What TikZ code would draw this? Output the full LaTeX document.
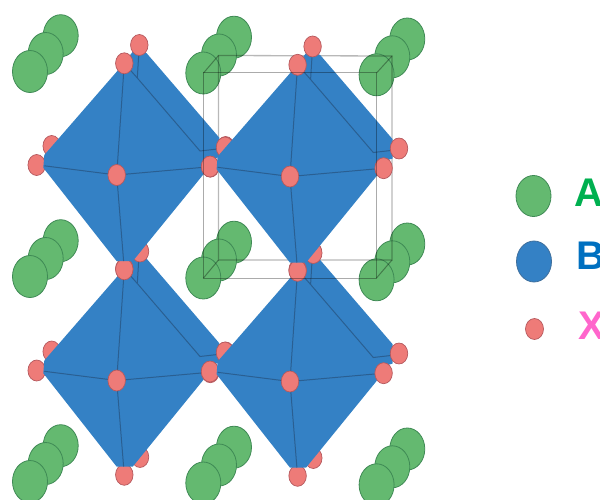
\documentclass[tikz,border=0pt]{standalone}
\usepackage{fontspec}
\usetikzlibrary{shapes.geometric}
\setmainfont{Liberation Sans}
\tikzset{
  atom/.style={ellipse,draw=atomline,fill=atomfill,line width=0.7pt,inner sep=0pt,minimum width=17.5pt,minimum height=21pt},
  aball/.style={ellipse,draw=greenline,fill=greenfill,line width=0.8pt,inner sep=0pt,minimum width=35pt,minimum height=42pt},
  bball/.style={ellipse,draw=blueline,fill=bluefill,line width=0.8pt,inner sep=0pt,minimum width=35pt,minimum height=41pt},
  edgeline/.style={draw=edgecol,line width=1pt},
  cellback/.style={draw=black,draw opacity=0.28,line width=1.3pt},
  cellfront/.style={draw=black,draw opacity=0.33,line width=1pt},
  legendtext/.style={font=\bfseries\fontsize{40}{40}\selectfont,anchor=base west,inner sep=0pt}
}
\definecolor{atomfill}{HTML}{EE7B78}
\definecolor{atomline}{HTML}{B5595E}
\definecolor{greenfill}{HTML}{64B970}
\definecolor{greenline}{HTML}{3F8A55}
\definecolor{bluefill}{HTML}{3481C5}
\definecolor{blueline}{HTML}{3F6F9C}
\definecolor{edgecol}{HTML}{2A5F92}
\definecolor{legA}{HTML}{00B050}
\definecolor{legB}{HTML}{0070C0}
\definecolor{legX}{HTML}{FF66CC}
\newcommand{\greentrio}[2]{%
  \begin{scope}[shift={(#1,#2)}]
    \node[aball] (gb) at (60.7,35.7) {};
    \node[aball] (gm) at (45.7,53.5) {};
    \node[aball] (gf) at (30,71.5) {};
  \end{scope}}
\newcommand{\octa}[2]{%
  \begin{scope}[shift={(#1,#2)}]
    \node[atom] (lb) at (51.7,146) {};
    \node[atom] (bb) at (140,251.5) {};
    \node[atom] (lf) at (36.7,165) {};
    \node[atom] (bf) at (124.3,269.3) {};
    \fill[bluefill] (44.3,155) -- (116.7,71.7) -- (124,63) -- (134,50) -- (146.7,53.3) -- (219.4,137.8) -- (219.4,157) -- (210,160) -- (203.3,174.5) -- (132.7,261.2) -- (116.7,261.2) -- (43.3,167.8) -- cycle;
    \coordinate (T) at (124.3,63.3);
    \coordinate (C) at (116.7,175);
    \coordinate (L) at (44.3,165.8);
    \coordinate (B) at (123.6,261);
    \coordinate (R) at (210.3,166.7);
    \coordinate (P) at (137.3,78);
    \coordinate (Q) at (200,151);
    \coordinate (S) at (222,148.5);
    \node[atom] (tb) at (139.3,45) {};
    \draw[edgeline] (T) -- (C) -- (B);
    \draw[edgeline] (L) -- (C) -- (R);
    \draw[edgeline] (tb) -- (P);
    \draw[edgeline] (T) -- (P) -- (Q) -- (S);
    \node[atom] (rb) at (225.7,147) {};
    \node[atom] (tf) at (T) {};
    \node[atom] (c) at (C) {};
    \node[atom] (rf) at (R) {};
  \end{scope}}
\begin{document}
\begin{tikzpicture}[x=1pt,y=-1pt]
\useasboundingbox (0,0) rectangle (600,500);
% A-site atoms
\foreach \dy in {0,205,410}{
  \greentrio{0}{\dy}
  \greentrio{173.3}{\dy+1.5}
  \greentrio{346.6}{\dy+3.3}
}
% back of the unit cell
\coordinate (b1) at (218.5,55.5);
\coordinate (b2) at (392,56);
\coordinate (b3) at (392,260);
\coordinate (b4) at (218.5,260);
\draw[cellback] (b1) -- (b2) -- (b3) -- (b4) -- cycle;
% octahedra, lower row first
\octa{0}{205.5}
\octa{173.3}{206.5}
\octa{0}{0}
\octa{173.3}{1.5}
% front of the unit cell
\coordinate (f1) at (203.5,73);
\coordinate (f2) at (376.5,73);
\coordinate (f3) at (376.5,278);
\coordinate (f4) at (203.5,278);
\draw[cellfront] (f1) -- (f2) -- (f3) -- (f4) -- cycle;
\draw[cellfront] (f1) -- (b1) (f2) -- (b2) (f3) -- (b3) (f4) -- (b4);
% legend
\node[aball,minimum height=41pt] (legendA) at (533.5,196) {};
\node[bball] (legendB) at (534,261.5) {};
\node[atom,minimum width=18pt,minimum height=21pt] (legendX) at (534.5,329) {};
\node[legendtext,text=legA] (labelA) at (574,206) {A};
\node[legendtext,text=legB] (labelB) at (576,269) {B};
\node[legendtext,text=legX] (labelX) at (578,339) {X};
\end{tikzpicture}
\end{document}
